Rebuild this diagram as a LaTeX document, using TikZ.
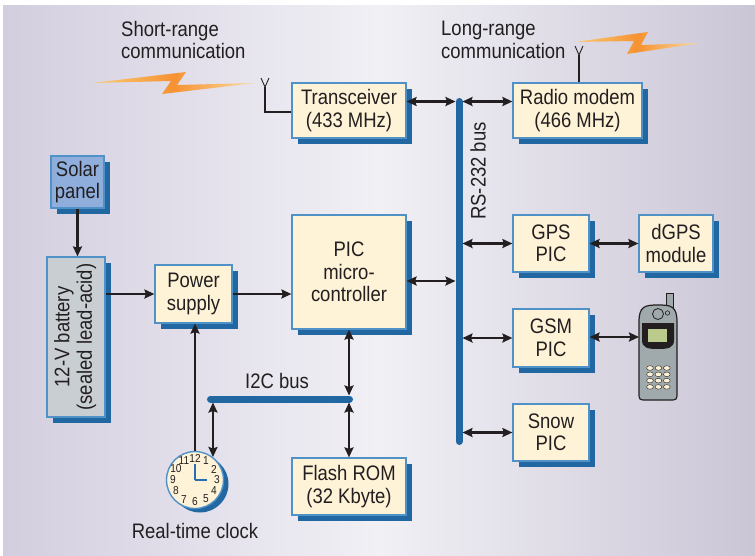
\documentclass[tikz,border=0pt]{standalone}
\usepackage{fontspec}
\setmainfont{Liberation Sans}[FakeStretch=0.88]
\usepackage{xcolor}
\usetikzlibrary{arrows.meta, shadows}

\definecolor{ink}{RGB}{35,31,32}
\definecolor{shadowblue}{RGB}{33,103,161}
\definecolor{edgeblue}{RGB}{80,145,200}
\definecolor{cream}{RGB}{254,242,215}
\definecolor{solarblue}{RGB}{143,174,220}
\definecolor{battgrey}{RGB}{201,206,210}
\definecolor{bgside}{RGB}{211,206,223}
\definecolor{bgmid}{RGB}{241,240,245}
\definecolor{boltorange}{RGB}{246,146,50}
\definecolor{boltpale}{RGB}{250,205,120}
\definecolor{lcdgreen}{RGB}{186,203,140}
\definecolor{phonegrey}{RGB}{160,170,172}
\definecolor{handblue}{RGB}{40,110,176}

\newcommand\blkfont{\fontsize{21}{22.5}\selectfont}
\newcommand\dialfont{\fontsize{11.5}{11.5}\selectfont}

\begin{document}
\begin{tikzpicture}[x=1pt, y=-1pt,
    blk/.style={draw=edgeblue, line width=1.2pt, fill=cream, text=ink, align=center,
        inner sep=0pt, font=\blkfont,
        drop shadow={shadow xshift=6pt, shadow yshift=-6pt, fill=shadowblue, opacity=1}},
    lbl/.style={text=ink, inner sep=0pt, font=\blkfont},
    link/.style={ink, line width=2.2pt, -{Stealth[length=10pt, width=9pt, inset=1.5pt]}},
    dlink/.style={ink, line width=2.2pt, {Stealth[length=10pt, width=9pt, inset=1.5pt]}-{Stealth[length=10pt, width=9pt, inset=1.5pt]}},
    bus/.style={shadowblue, line width=7pt, line cap=round},
    wire/.style={ink, line width=2.2pt},
    hand/.style={handblue, line width=2.2pt},
    bolt/.style={left color=boltpale, right color=boltpale!70!white, middle color=boltorange}]

    \useasboundingbox (0,0) rectangle (755,555);
    \fill[white] (0,0) rectangle (755,555);
    \fill[left color=bgside, right color=bgside!96!black, middle color=bgmid] (3,5) rectangle (755,555);

    % radio links
    \shade[bolt] (92,83) -- (186,72) -- (177,85) -- (255,83) -- (162,94) -- (171,81) -- cycle;
    \shade[bolt] (575,42) -- (648,32) -- (641,45) -- (700,43) -- (627,54) -- (634,41) -- cycle;
    \node[lbl, align=left, anchor=north west] (shortlbl) at (121,21) {Short-range\\communication};
    \node[lbl, align=left, anchor=north west] (longlbl) at (441,21) {Long-range\\communication};

    % blocks
    \node[blk, fill=solarblue, minimum width=53pt, minimum height=52pt] (solar) at (77.5,182) {Solar\\panel};
    \node[blk, fill=battgrey, minimum width=58pt, minimum height=160pt] (batt) at (76,337)
        {\rotatebox{90}{\begin{tabular}{@{}c@{}}12-V battery\\(sealed lead-acid)\end{tabular}}};
    \node[blk, minimum width=77pt, minimum height=58pt] (power) at (193.5,294) {Power\\supply};
    \node[blk, minimum width=114pt, minimum height=114pt] (pic) at (349,272) {PIC\\micro-\\controller};
    \node[blk, minimum width=114pt, minimum height=55pt] (trans) at (349,110.5) {Transceiver\\(433 MHz)};
    \node[blk, minimum width=129pt, minimum height=55pt] (radio) at (577.5,110.5) {Radio modem\\(466 MHz)};
    \node[blk, minimum width=76pt, minimum height=57pt] (gps) at (551,243.5) {GPS\\PIC};
    \node[blk, minimum width=74pt, minimum height=57pt] (dgps) at (676,243.5) {dGPS\\module};
    \node[blk, minimum width=76pt, minimum height=58pt] (gsm) at (551,338) {GSM\\PIC};
    \node[blk, minimum width=76pt, minimum height=57pt] (snow) at (551,432.5) {Snow\\PIC};
    \node[blk, minimum width=114pt, minimum height=57pt] (flash) at (349,486.5) {Flash ROM\\(32 Kbyte)};

    % buses
    \coordinate (rstop) at (459,101.5);
    \coordinate (rsbot) at (459,441.5);
    \coordinate (i2cl) at (210.5,399);
    \coordinate (i2cr) at (349.5,399);
    \draw[bus] (rstop) -- (rsbot);
    \draw[bus] (i2cl) -- (i2cr);
    \node[lbl, rotate=90] (rslabel) at (478,171) {RS-232 bus};
    \node[lbl] (i2clabel) at (277,381) {I2C bus};

    % real-time clock
    \node[circle, draw=edgeblue, line width=1.4pt, fill=cream, minimum size=57pt, inner sep=0pt,
        drop shadow={shadow xshift=5pt, shadow yshift=-4pt, fill=shadowblue, opacity=1}] (clock) at (195,480) {};
    \foreach \h in {1,...,12}
        \path (clock.center) ++(\h*30-90:22) node[text=ink, inner sep=0pt, font=\dialfont] {\h};
    \draw[hand] (clock.center) -- ++(0,-16);
    \draw[hand] (clock.center) -- ++(12,0);
    \node[lbl] (clocklbl) at (195,531) {Real-time clock};

    % mobile phone
    \filldraw[fill=phonegrey, draw=ink, line width=1pt] (666,293) rectangle (673,316);
    \filldraw[fill=phonegrey, draw=ink, line width=1.2pt] (639,392) -- (639,322)
        .. controls (639,306) and (645,305) .. (658,305) .. controls (671,305) and (677,306) .. (677,322)
        -- (677,392) .. controls (677,400) .. (669,400) -- (647,400) .. controls (639,400) .. (639,392) -- cycle;
    \fill[ink] (642,323) -- (674,323) -- (674,340) .. controls (674,348) and (668,349) .. (658,349)
        .. controls (648,349) and (642,348) .. (642,340) -- cycle;
    \fill[lcdgreen] (648,329) rectangle (667,342);
    \filldraw[fill=phonegrey, draw=ink, line width=0.8pt] (658,314) circle (5.5);
    \filldraw[fill=phonegrey, draw=ink, line width=0.6pt] (667.5,313) circle (2.2);
    \foreach \row in {0,...,3}
        \foreach \col in {0,1,2}
            \filldraw[fill=cream, draw=ink, line width=0.4pt] (650+\col*8.4, 368+\row*6.3) ellipse (3.4 and 2.3);
    \coordinate (phone) at (639,337);

    % antennas
    \coordinate (tant) at (265,87);
    \coordinate (rant) at (579,55);
    \draw[wire] ([yshift=-1.5pt]trans.west) -| (tant);
    \draw[ink, line width=0.9pt] (tant) -- ++(-4,-9) (tant) -- ++(4,-9);
    \draw[wire] (radio.north -| rant) -- (rant);
    \draw[ink, line width=0.9pt] (rant) -- ++(-4,-9) (rant) -- ++(4,-9);

    % power path
    \draw[link] (solar.south) -- (solar.south |- batt.north);
    \draw[link] (batt.east |- power) -- (power.west);
    \draw[link] (power.east) -- (power -| pic.west);
    \draw[link] (clock.north) -- (clock.north |- power.south);

    % I2C connections
    \draw[dlink, shorten >=3.5pt] (pic.south) -- (pic.south |- i2cr);
    \draw[dlink, shorten <=3.5pt] (flash.north |- i2cr) -- (flash.north);
    \draw[dlink, shorten <=3.5pt] (clock.52 |- i2cl) -- (clock.52);

    % RS-232 connections
    \draw[dlink, shorten >=3.5pt] (trans.east |- rstop) -- (rstop);
    \draw[dlink, shorten <=3.5pt] (rstop) -- (radio.west |- rstop);
    \draw[dlink, shorten >=3.5pt] ([yshift=-9pt]pic.east) -- ([yshift=-9pt]pic.east -| rstop);
    \draw[dlink, shorten <=3.5pt] (gps.west -| rstop) -- (gps.west);
    \draw[dlink, shorten <=3.5pt] (gsm.west -| rstop) -- (gsm.west);
    \draw[dlink, shorten <=3.5pt] (snow.west -| rstop) -- (snow.west);
    \draw[dlink] (gps.east) -- (dgps.west);
    \draw[dlink] (gsm.east |- phone) -- (phone);
\end{tikzpicture}
\end{document}
